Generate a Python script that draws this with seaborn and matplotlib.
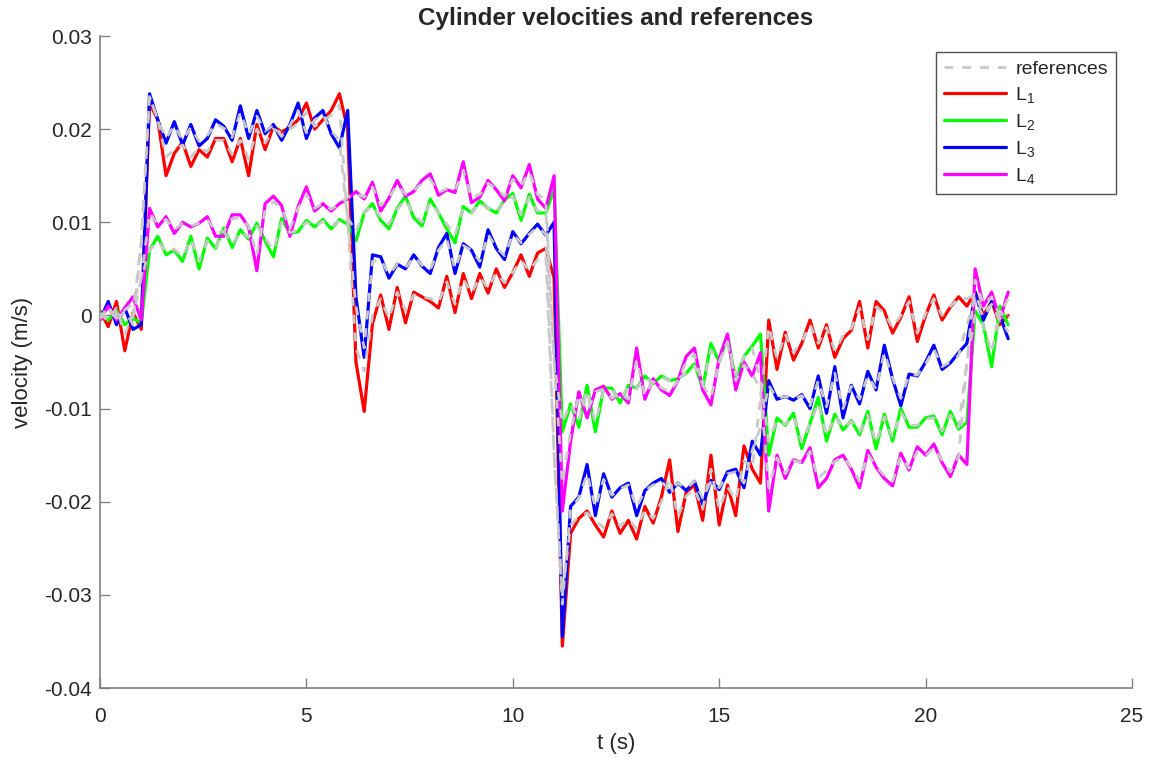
import numpy as np
import pandas as pd
import matplotlib
matplotlib.use("Agg")
import matplotlib.pyplot as plt
import seaborn as sns
from matplotlib.lines import Line2D

# ---------------- data (velocities in mm/s, sampled every 0.2 s from 0 to 22 s) ----------------
dt = 0.2

L1 = [0.5, -1.2, 1.5, -3.8, 0.3, -1.5, 22.8, 21.0, 15.0, 17.4,
      18.6, 16.0, 17.8, 17.0, 19.0, 19.0, 16.5, 19.0, 15.0, 20.5,
      17.8, 20.3, 19.7, 20.2, 21.0, 22.8, 20.0, 21.0, 22.0, 23.8,
      20.0, -5.0, -10.3, -0.9, 2.2, -1.5, 3.0, -0.8, 2.5, 2.0,
      1.5, 0.8, 4.2, 0.3, 4.5, 1.8, 4.5, 2.4, 5.0, 3.0,
      4.6, 6.5, 4.2, 6.7, 7.2, 4.0, -35.5, -23.4, -21.8, -21.0,
      -22.5, -23.8, -21.0, -23.4, -22.0, -24.0, -20.5, -22.3, -19.5, -15.5,
      -23.2, -19.0, -18.2, -22.0, -15.0, -22.5, -18.2, -21.5, -14.0, -16.5,
      -18.0, -0.5, -5.8, -1.8, -4.8, -3.0, -0.5, -3.5, -1.0, -4.5,
      -2.5, -1.6, 1.5, -3.5, 1.5, 0.5, -1.9, -0.2, 2.0, -2.8,
      0.0, 2.2, -0.5, 0.9, 2.0, 1.0, 2.5, 0.0, 1.5, -1.0,
      0.0]

L2 = [0.3, -0.5, 0.5, -1.0, -0.3, -0.8, 7.0, 8.5, 6.5, 7.0,
      5.8, 8.5, 5.0, 8.3, 7.2, 9.4, 7.3, 9.2, 8.2, 9.9,
      8.0, 6.3, 10.4, 8.8, 9.0, 10.2, 9.5, 10.3, 9.3, 10.3,
      9.8, 8.0, 11.0, 12.0, 10.2, 9.3, 11.5, 12.8, 10.5, 9.6,
      12.5, 11.0, 9.3, 7.8, 11.7, 11.0, 12.3, 11.5, 11.0, 12.4,
      13.1, 10.2, 13.0, 11.0, 11.0, 13.6, -12.5, -9.5, -12.0, -7.5,
      -12.5, -7.8, -7.8, -9.4, -7.5, -7.8, -6.5, -7.3, -6.5, -7.0,
      -6.8, -6.2, -5.2, -7.8, -3.0, -5.0, -2.2, -7.0, -4.4, -3.3,
      -2.0, -15.0, -11.0, -11.8, -10.5, -14.3, -11.6, -8.8, -13.5, -10.6,
      -12.3, -11.3, -12.8, -10.3, -14.3, -10.6, -13.5, -10.0, -12.0, -12.0,
      -11.0, -10.8, -12.8, -10.3, -12.2, -11.5, 0.5, -1.0, -5.5, 1.0,
      -1.0]

L3 = [-0.5, 1.5, -1.0, 0.8, -1.5, -1.0, 23.8, 21.0, 18.5, 20.8,
      18.3, 20.5, 18.2, 19.0, 21.0, 20.3, 18.8, 22.5, 19.0, 22.0,
      19.5, 20.5, 18.8, 20.5, 22.8, 19.0, 21.2, 22.0, 19.5, 18.0,
      22.0, 2.0, -4.5, 6.5, 6.3, 4.0, 5.5, 5.0, 6.5, 5.3,
      4.5, 7.3, 8.8, 4.5, 7.7, 7.0, 5.2, 9.2, 7.2, 6.0,
      9.0, 7.7, 8.8, 9.8, 8.6, 10.0, -34.5, -20.5, -19.5, -16.0,
      -21.5, -17.0, -19.5, -18.5, -18.0, -21.5, -18.8, -18.0, -17.5, -19.0,
      -18.0, -18.8, -17.8, -20.3, -17.7, -18.7, -16.8, -16.5, -18.5, -13.5,
      -15.0, -7.0, -9.0, -8.7, -9.1, -8.5, -10.0, -6.5, -10.5, -5.5,
      -11.0, -7.5, -9.5, -6.0, -8.0, -3.2, -6.8, -9.7, -6.3, -6.5,
      -5.0, -3.2, -5.8, -5.1, -4.0, -3.0, 2.5, -0.5, 1.5, 0.0,
      -2.5]

L4 = [-0.5, 1.0, -0.5, 0.8, 2.0, -0.5, 11.5, 9.5, 10.6, 8.8,
      10.0, 9.5, 9.9, 10.6, 8.5, 8.5, 10.8, 10.8, 9.5, 4.8,
      12.0, 12.8, 11.8, 8.5, 11.7, 13.8, 11.2, 12.0, 11.2, 12.0,
      12.5, 13.3, 12.5, 14.3, 11.2, 12.6, 14.5, 12.8, 13.3, 14.5,
      15.2, 12.9, 13.5, 13.2, 16.5, 12.1, 12.7, 14.5, 13.5, 12.3,
      15.0, 13.7, 16.2, 12.5, 11.5, 15.0, -21.0, -13.5, -8.2, -11.0,
      -8.0, -7.6, -9.0, -8.4, -9.4, -3.5, -9.0, -6.8, -8.0, -8.6,
      -7.0, -4.4, -3.5, -8.0, -9.6, -4.6, -2.0, -8.0, -5.0, -6.5,
      -4.0, -21.0, -15.0, -17.5, -15.5, -15.8, -14.2, -18.5, -17.5, -15.5,
      -15.0, -16.5, -18.5, -14.5, -16.3, -17.5, -18.3, -14.8, -16.6, -14.1,
      -15.0, -13.8, -15.8, -17.3, -15.0, -16.0, 5.0, 1.0, 2.5, -0.5,
      2.5]

REF1 = [0.2, -0.6, 0.8, -2.0, 0.2, 8.0, 23.5, 21.0, 17.0, 17.8,
        18.3, 17.0, 18.0, 17.6, 18.8, 18.8, 17.3, 18.8, 16.8, 20.0,
        18.5, 20.0, 19.6, 20.0, 20.6, 21.8, 20.3, 20.9, 21.5, 22.6,
        10.0, -3.5, -6.0, 0.0, 1.8, -0.3, 2.5, 0.5, 2.2, 2.0,
        1.8, 1.4, 3.6, 1.2, 3.9, 2.4, 4.1, 2.9, 4.6, 3.5,
        4.6, 5.9, 4.8, 6.0, 6.4, -15.0, -30.0, -22.5, -21.6, -21.2,
        -22.0, -22.8, -21.3, -22.6, -21.9, -22.9, -20.9, -21.8, -20.0, -17.5,
        -21.6, -19.4, -18.6, -20.8, -16.5, -20.8, -18.4, -19.8, -15.6, -16.4,
        -9.0, -1.2, -4.6, -2.0, -4.0, -2.8, -1.0, -3.0, -1.3, -3.8,
        -2.2, -1.4, 0.8, -2.6, 0.9, 0.3, -1.3, 0.0, 1.5, -1.9,
        0.2, 1.8, 0.0, 1.0, 1.8, 1.8, 2.2, 0.3, 1.2, -0.6,
        0.0]

REF2 = [0.2, -0.3, 0.3, -0.6, -0.2, 4.0, 7.0, 8.0, 6.8, 7.1,
        6.3, 8.2, 5.8, 8.0, 7.3, 9.0, 7.6, 9.0, 8.4, 9.6,
        8.3, 7.0, 10.0, 8.9, 9.1, 10.0, 9.5, 10.1, 9.5, 10.2,
        10.5, 9.0, 11.0, 11.8, 10.5, 9.8, 11.4, 12.4, 10.8, 10.0,
        12.2, 11.0, 9.8, 8.6, 11.5, 11.0, 12.1, 11.5, 11.1, 12.2,
        12.8, 10.8, 12.7, 11.2, 11.2, -5.0, -11.5, -9.5, -11.3, -8.0,
        -11.5, -8.0, -8.0, -9.1, -7.6, -7.8, -6.7, -7.2, -6.6, -7.0,
        -6.8, -6.2, -5.4, -7.4, -3.7, -5.0, -2.8, -6.4, -4.4, -3.5,
        -7.0, -13.5, -11.2, -11.7, -10.8, -13.6, -11.6, -9.4, -12.9, -10.8,
        -12.1, -11.4, -12.5, -10.7, -13.7, -10.9, -13.1, -10.4, -11.8, -11.8,
        -11.1, -11.0, -12.4, -10.7, -12.0, -5.0, 0.0, -1.0, -4.0, 0.5,
        -0.8]

REF3 = [-0.3, 1.0, -0.6, 0.5, -1.0, 8.0, 23.5, 21.0, 19.0, 20.4,
        18.8, 20.2, 18.7, 19.3, 20.6, 20.1, 19.1, 21.8, 19.4, 21.4,
        19.8, 20.4, 19.2, 20.4, 22.0, 19.6, 21.0, 21.6, 19.8, 18.8,
        10.0, 1.0, -3.5, 5.8, 6.0, 4.4, 5.5, 5.1, 6.3, 5.4,
        4.9, 7.0, 8.2, 5.0, 7.5, 7.0, 5.8, 8.7, 7.3, 6.4,
        8.7, 7.8, 8.7, 9.5, 8.7, -15.0, -31.0, -20.8, -19.6, -17.0,
        -20.6, -17.6, -19.3, -18.6, -18.2, -20.6, -18.8, -18.2, -17.8, -18.8,
        -18.0, -18.6, -17.8, -19.6, -17.8, -18.5, -17.0, -16.8, -18.0, -14.5,
        -12.0, -7.5, -8.9, -8.7, -9.0, -8.6, -9.7, -7.0, -9.8, -6.2,
        -10.0, -7.6, -9.0, -6.5, -7.9, -4.0, -6.7, -8.9, -6.4, -6.4,
        -5.2, -3.6, -5.5, -5.0, -4.3, -1.0, 1.8, -0.2, 1.2, -0.3,
        -1.8]

REF4 = [-0.3, 0.7, -0.3, 0.6, 1.3, 4.0, 11.0, 9.8, 10.3, 9.2,
        9.9, 9.6, 9.9, 10.3, 9.0, 9.0, 10.4, 10.5, 9.6, 6.5,
        11.3, 12.2, 11.6, 9.3, 11.5, 13.0, 11.5, 12.0, 11.4, 12.0,
        12.7, 13.1, 12.7, 13.8, 11.8, 12.7, 14.0, 13.0, 13.4, 14.2,
        14.6, 13.2, 13.6, 13.4, 15.6, 12.6, 13.0, 14.2, 13.6, 12.8,
        14.6, 13.9, 15.4, 13.0, 12.4, -5.0, -18.0, -12.5, -8.5, -10.3,
        -8.2, -7.9, -8.9, -8.4, -9.0, -4.8, -8.6, -7.0, -7.8, -8.2,
        -7.0, -5.0, -4.2, -7.5, -8.8, -5.0, -3.0, -7.0, -5.3, -6.2,
        -8.0, -18.5, -15.3, -17.0, -15.6, -15.8, -14.6, -17.5, -16.6, -15.7,
        -15.2, -16.3, -17.8, -14.9, -16.2, -17.2, -17.8, -15.1, -16.4, -14.6,
        -15.1, -14.2, -15.6, -16.8, -15.2, -5.0, 3.8, 1.2, 2.0, 0.0,
        1.8]

series_names = ["L1", "L2", "L3", "L4"]
series_values = [L1, L2, L3, L4]
ref_values = [REF1, REF2, REF3, REF4]
legend_labels = ["references", r"$\mathregular{L_1}$", r"$\mathregular{L_2}$",
                 r"$\mathregular{L_3}$", r"$\mathregular{L_4}$"]
xticks = [0, 5, 10, 15, 20, 25]
yticks = [-0.04, -0.03, -0.02, -0.01, 0, 0.01, 0.02, 0.03]
ytick_labels = ["-0.04", "-0.03", "-0.02", "-0.01", "0", "0.01", "0.02", "0.03"]

# ---------------- styling ----------------
sns.set_style("white")
plt.rcParams["font.family"] = ["Liberation Sans", "DejaVu Sans"]
plt.rcParams["mathtext.fontset"] = "custom"
plt.rcParams["mathtext.rm"] = "Liberation Sans"
plt.rcParams["axes.unicode_minus"] = False

colors = {"L1": "#ff0000", "L2": "#00ff00", "L3": "#0000ff", "L4": "#ff00ff"}
ref_color = "#c8c8c8"
axis_color = "#262626"

rows = []
for name, vals, refs in zip(series_names, series_values, ref_values):
    for i, (v, r) in enumerate(zip(vals, refs)):
        rows.append({"series": name, "t": round(i * dt, 1), "v": v / 1000.0, "ref": r / 1000.0})
df = pd.DataFrame(rows)

fig = plt.figure(figsize=(11.55, 7.58), dpi=100)
ax = fig.add_axes([100 / 1155, 1 - 688 / 758, (1132 - 100) / 1155, (688 - 36) / 758])

for name in series_names:
    d = df[df["series"] == name]
    sns.lineplot(data=d, x="t", y="v", color=colors[name], linewidth=2.3,
                 estimator=None, sort=False, ax=ax, zorder=2)
for name in series_names:
    d = df[df["series"] == name]
    sns.lineplot(data=d, x="t", y="ref", color=ref_color, linewidth=2.0,
                 linestyle=(0, (3.2, 3.2)), estimator=None, sort=False, ax=ax,
                 zorder=3)

ax.set_xlim(0, 25)
ax.set_ylim(-0.04, 0.03)
ax.set_xticks(xticks)
ax.set_xticklabels([str(x) for x in xticks])
ax.set_yticks(yticks)
ax.set_yticklabels(ytick_labels)
ax.tick_params(direction="in", length=7, width=1.0, colors="#808080",
               labelcolor=axis_color, labelsize=15, bottom=True, left=True,
               top=False, right=False)
ax.tick_params(axis="x", pad=14)
ax.tick_params(axis="y", pad=6)
for s in ["top", "right"]:
    ax.spines[s].set_visible(False)
for s in ["left", "bottom"]:
    ax.spines[s].set_color("#808080")
    ax.spines[s].set_linewidth(1.2)

ax.set_xlabel("t (s)", fontsize=16, color=axis_color, labelpad=5)
ax.set_ylabel("velocity (m/s)", fontsize=16, color=axis_color, labelpad=8)
ax.set_title("Cylinder velocities and references", fontsize=17.5, fontweight="bold",
             color=axis_color, pad=8)

# legend
handles = [Line2D([], [], color=ref_color, linewidth=2.0, linestyle=(0, (3.2, 3.2)))]
handles += [Line2D([], [], color=colors[n], linewidth=2.3) for n in series_names]
leg = ax.legend(handles, legend_labels, loc="upper right",
                bbox_to_anchor=(1116 / 1155, 1 - 52 / 758),
                bbox_transform=fig.transFigure, borderaxespad=0,
                fontsize=14, frameon=True, fancybox=False, handlelength=3.2,
                labelspacing=0.36, borderpad=0.42, handletextpad=0.45)
leg.get_frame().set_edgecolor("#262626")
leg.get_frame().set_linewidth(1.0)
for txt in leg.get_texts():
    txt.set_color(axis_color)

fig.savefig("out.png", dpi=100)
